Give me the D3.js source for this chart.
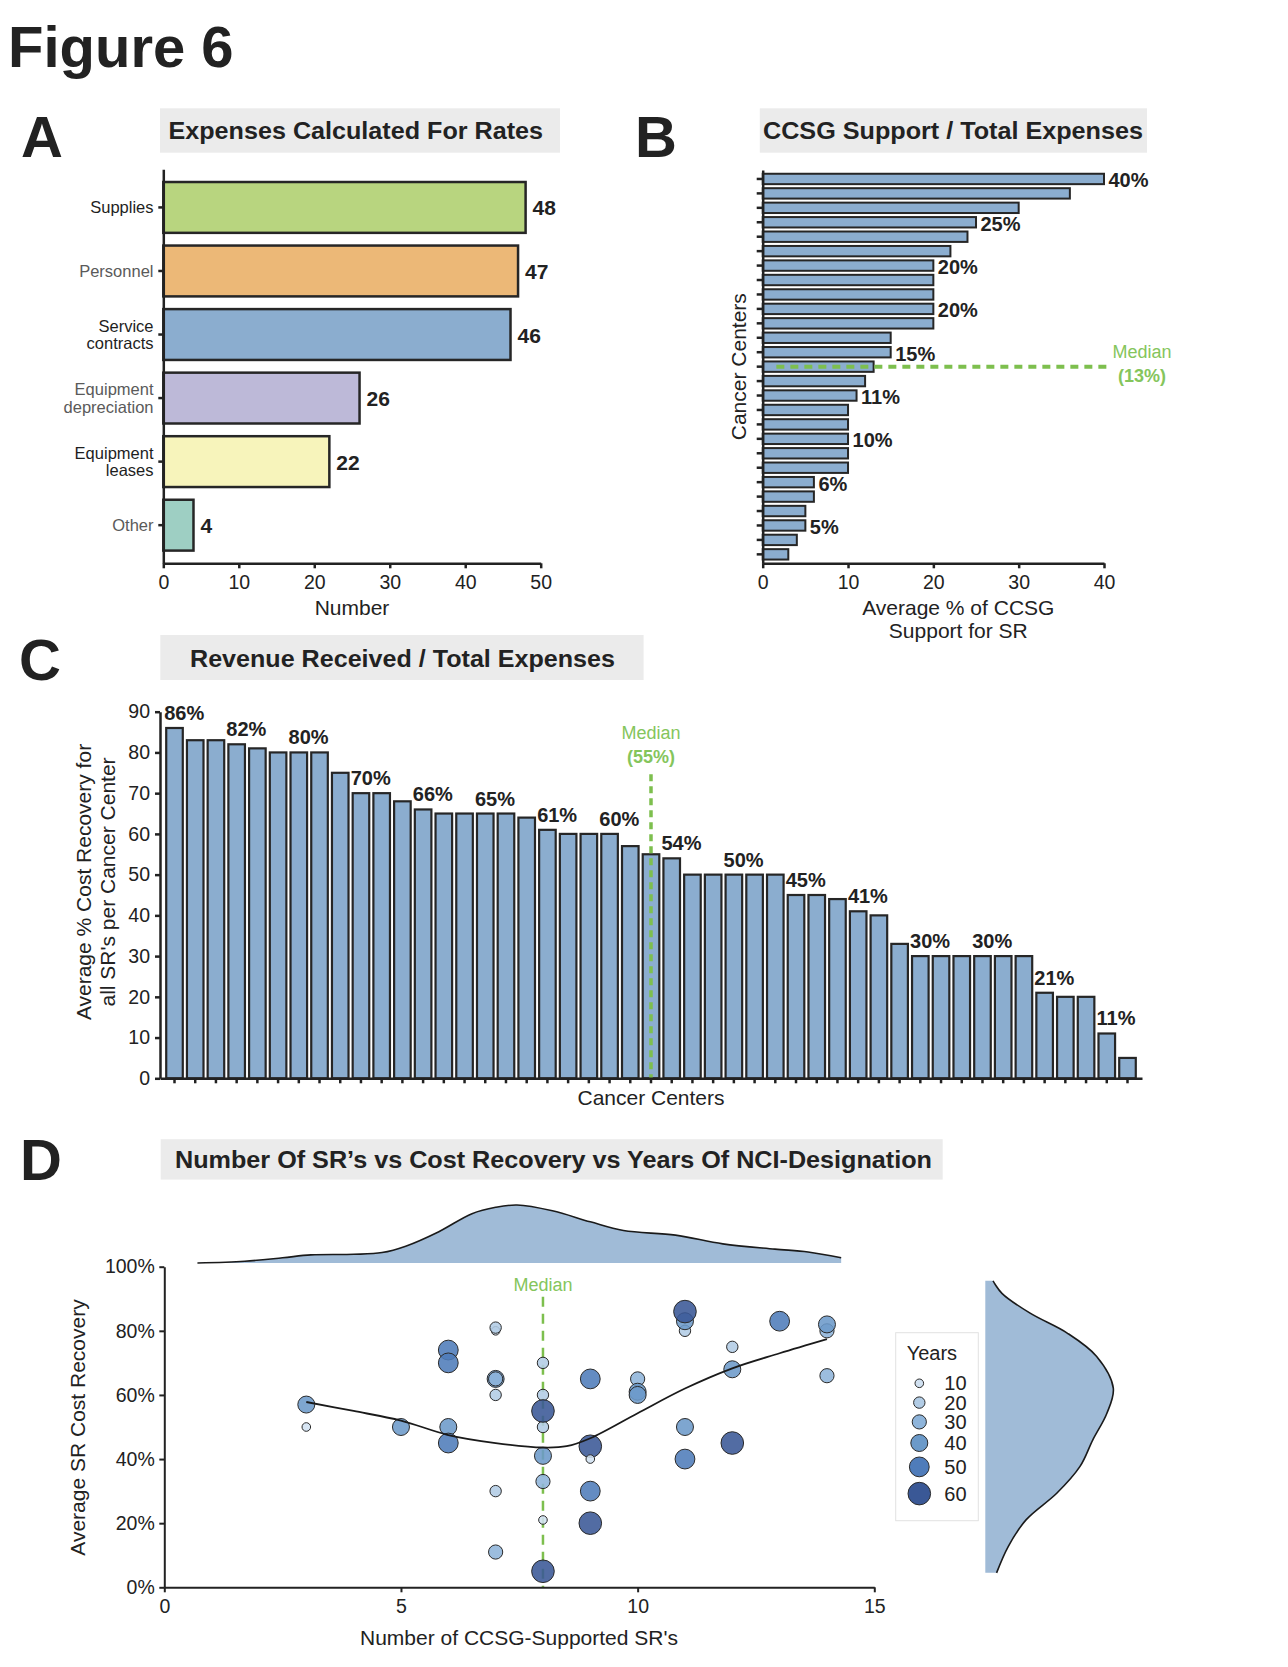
<!DOCTYPE html>
<html>
<head>
<meta charset="utf-8">
<script src="https://cdn.jsdelivr.net/npm/d3@7"></script>
<style>
  body { margin: 0; background: #fff; }
</style>
</head>
<body>
<svg id="fig" width="1288" height="1667"></svg>
<script>
// Panel A: expenses used for rate calculation.
const expenseCategories = ["Supplies", "Personnel", "Service contracts", "Equipment depreciation", "Equipment leases", "Other"];
const expenseCounts = [48, 47, 46, 26, 22, 4];
const expenseColors = ["#b8d57f", "#ecb877", "#8badcf", "#bdb9d8", "#f7f4bb", "#9ecfc3"];
const expenseLabelColors = ["#1e1e1e", "#5a5a5a", "#1e1e1e", "#5a5a5a", "#1e1e1e", "#5a5a5a"];
const expenseTicks = [0, 10, 20, 30, 40, 50];

// Panel B: CCSG support / total expenses, one bar per cancer center.
const ccsgSupport = [40, 36, 30, 25, 24, 22, 20, 20, 20, 20, 20, 15, 15, 13, 12, 11, 10, 10, 10, 10, 10, 6, 6, 5, 5, 4, 3];
const ccsgTicks = [0, 10, 20, 30, 40];

// Panel C: revenue received / total expenses.
const costRecovery = [86, 83, 83, 82, 81, 80, 80, 80, 75, 70, 70, 68, 66, 65, 65, 65, 65, 64, 61, 60, 60, 60, 57, 55,
                      54, 50, 50, 50, 50, 50, 45, 45, 44, 41, 40, 33, 30, 30, 30, 30, 30, 30, 21, 20, 20, 11, 5];
const recoveryTicks = [0, 10, 20, 30, 40, 50, 60, 70, 80, 90];

// Panel D: scatter of SR count vs cost recovery, sized by years of designation.
const srCount   = [3, 3, 5, 6, 6, 6, 6, 7, 7, 7, 7, 7, 7, 7, 8, 8, 8, 8, 8, 8, 8, 8, 9, 9, 9, 9, 9, 10, 10, 10, 11, 11, 11, 11, 11, 12, 12, 12, 13, 14, 14, 14];
const srRecovery = [57, 50, 50, 74, 70, 50, 45, 80, 81, 65, 65, 60, 30, 11, 70, 60, 50, 55, 41, 33, 21, 5, 65, 44, 40, 30, 20, 65, 61, 60, 80, 83, 86, 50, 40, 75, 68, 45, 83, 80, 82, 66];
const srYears   = [40, 10, 40, 50, 50, 40, 50, 10, 20, 40, 30, 20, 20, 30, 20, 20, 20, 60, 40, 30, 10, 60, 50, 60, 10, 50, 60, 30, 40, 40, 20, 40, 60, 40, 50, 20, 40, 60, 50, 30, 40, 30];
const yearLevels = [10, 20, 30, 40, 50, 60];
const yearColors = ["#d1e1f1", "#b2cce5", "#8eb4da", "#6c9ac9", "#4f7cba", "#3a5896"];

// Smoothed trend line.
const trendX = [3, 4, 5, 6, 7, 8, 8.5, 9, 10, 11, 12, 13, 14];
const trendY = [57.8, 55, 52, 47.5, 45, 43.6, 44, 46.5, 54.3, 62, 68.3, 73, 77.4];

// Marginal densities (relative height).
const kdeTopX = [0.7, 1.7, 2.5, 3.1, 4.0, 4.6, 5.1, 5.8, 6.5, 7.0, 7.45, 8.2, 9.0, 9.7, 10.8, 11.8, 12.9, 13.6, 14.3];
const kdeTopD = [0, 0.03, 0.09, 0.14, 0.15, 0.18, 0.29, 0.54, 0.85, 0.96, 1.0, 0.9, 0.71, 0.56, 0.48, 0.33, 0.24, 0.19, 0.09];
const kdeRightY = [4.5, 12.8, 21.1, 29.4, 37.7, 46, 54.3, 62.1, 72, 79.3, 85.5, 91.7, 95.6];
const kdeRightD = [0.088, 0.18, 0.32, 0.56, 0.74, 0.84, 0.95, 1.0, 0.87, 0.64, 0.35, 0.13, 0.06];
const scatterXTicks = [0, 5, 10, 15];
const scatterYTicks = [0, 20, 40, 60, 80, 100];

const FONT = "'Liberation Sans', Arial, Helvetica, sans-serif";
const INK = "#222";
const GREEN = "#7dbf4e";
const GREEN_TEXT = "#85c55c";
const BAR_BLUE = "#8badcf";

let svg = d3.select("#fig");
svg.append("rect").attr("width", 1288).attr("height", 1667).attr("fill", "#fff");

// Shared axis styling.
function styleAxis(g, width, size) {
  g.attr("font-family", FONT).attr("font-size", size || 19.5);
  g.select(".domain").attr("stroke", INK).attr("stroke-width", width);
  g.selectAll(".tick line").attr("stroke", INK).attr("stroke-width", width);
  g.selectAll(".tick text").attr("fill", INK);
}

function label(x, y, txt, opts) {
  opts = opts || {};
  let t = svg.append("text")
     .attr("x", x).attr("y", y)
     .attr("font-family", FONT)
     .attr("font-size", opts.size || 21)
     .attr("font-weight", opts.bold ? "bold" : "normal")
     .attr("fill", opts.color || INK)
     .attr("text-anchor", opts.anchor || "start")
     .text(txt);
  if (opts.rotate) t.attr("transform", "rotate(-90," + x + "," + y + ")");
  if (opts.length) t.attr("textLength", opts.length).attr("lengthAdjust", "spacingAndGlyphs");
  return t;
}

function titleBox(x, y, w, h, tx, ty, txt, len) {
  svg.append("rect").attr("x", x).attr("y", y).attr("width", w).attr("height", h).attr("fill", "#ebebeb");
  label(tx, ty, txt, {size: 23, bold: true, length: len});
}

// Figure heading and panel letters.
label(8, 66.7, "Figure 6", {size: 58, bold: true});
label(21, 156.7, "A", {size: 58, bold: true});
label(635, 156.7, "B", {size: 58, bold: true});
label(19, 680, "C", {size: 58, bold: true});
label(20, 1179.6, "D", {size: 58, bold: true});

// ---------------- Panel A ----------------
titleBox(160, 108.3, 400, 44.4, 168.5, 139.3, "Expenses Calculated For Rates", 374.5);

let xA = d3.scaleLinear().domain([0, 50]).range([163.3, 540.7]);
let yA = d3.scaleBand().domain(expenseCategories).range([169.3, 563.3]).paddingInner(0.2).paddingOuter(0.2);

svg.append("g").selectAll("rect")
   .data(expenseCategories)
   .enter().append("rect")
   .attr("x", xA(0))
   .attr("y", d => yA(d))
   .attr("width", (d, i) => xA(expenseCounts[i]) - xA(0))
   .attr("height", yA.bandwidth())
   .attr("fill", (d, i) => expenseColors[i])
   .attr("stroke", "#262626")
   .attr("stroke-width", 2.5);

svg.append("g").selectAll("text")
   .data(expenseCategories)
   .enter().append("text")
   .attr("x", (d, i) => xA(expenseCounts[i]) + 7)
   .attr("y", d => yA(d) + yA.bandwidth() / 2 + 8)
   .attr("font-family", FONT).attr("font-size", 21).attr("font-weight", "bold").attr("fill", INK)
   .text((d, i) => expenseCounts[i]);

let axAx = svg.append("g")
   .attr("transform", "translate(0," + 563.3 + ")")
   .call(d3.axisBottom(xA).tickValues(expenseTicks).tickSize(5).tickSizeOuter(0).tickPadding(7));
styleAxis(axAx, 2.5);

let axAy = svg.append("g")
   .attr("transform", "translate(" + xA(0) + ",0)")
   .call(d3.axisLeft(yA).tickSize(5).tickSizeOuter(0).tickFormat(""));
styleAxis(axAy, 2.5);

// Category names, split over two lines where the original does.
expenseCategories.forEach(function(c, i) {
  let words = c.split(" ");
  let cy = yA(c) + yA.bandwidth() / 2;
  let lines = words.length > 1 ? [words[0], words.slice(1).join(" ")] : [c];
  let t = svg.append("text")
     .attr("font-family", FONT).attr("font-size", 16.5)
     .attr("fill", expenseLabelColors[i]).attr("text-anchor", "end");
  lines.forEach(function(l, j) {
    t.append("tspan").attr("x", 153.5)
     .attr("y", lines.length === 1 ? cy + 6 : cy - 3 + j * 17.7)
     .text(l);
  });
});

label((xA(0) + xA(50)) / 2, 615, "Number", {size: 21, anchor: "middle"});

// ---------------- Panel B ----------------
titleBox(759.8, 108.3, 387.2, 44.4, 763, 139.3, "CCSG Support / Total Expenses", 380);

let xB = d3.scaleLinear().domain([0, 40]).range([762.7, 1104]);
let yB = d3.scaleBand().domain(d3.range(ccsgSupport.length)).range([170, 563.3]).paddingInner(0.28).paddingOuter(0.26);

svg.append("g").selectAll("rect")
   .data(ccsgSupport)
   .enter().append("rect")
   .attr("x", xB(0))
   .attr("y", (d, i) => yB(i))
   .attr("width", d => xB(d) - xB(0))
   .attr("height", yB.bandwidth())
   .attr("fill", BAR_BLUE)
   .attr("stroke", "#262626")
   .attr("stroke-width", 2);

svg.append("g").selectAll("text")
   .data(ccsgSupport.map((d, i) => ({v: d, i: i})).filter(d => d.i % 3 === 0))
   .enter().append("text")
   .attr("x", d => xB(d.v) + 4.5)
   .attr("y", d => yB(d.i) + yB.bandwidth() / 2 + 8.5)
   .attr("font-family", FONT).attr("font-size", 20).attr("font-weight", "bold").attr("fill", INK)
   .text(d => d.v + "%");

let ccsgMedian = d3.median(ccsgSupport);
let yMedB = yB(ccsgSupport.indexOf(ccsgMedian)) + yB.bandwidth() / 2;
svg.append("line")
   .attr("x1", xB(1.6)).attr("x2", xB(40.3))
   .attr("y1", yMedB).attr("y2", yMedB)
   .attr("stroke", GREEN).attr("stroke-width", 4).attr("stroke-dasharray", "8,6");
label(1142, yMedB - 8.5, "Median", {size: 18, color: GREEN_TEXT, anchor: "middle"});
label(1142, yMedB + 15.5, "(" + ccsgMedian + "%)", {size: 18, bold: true, color: GREEN_TEXT, anchor: "middle"});

let axBx = svg.append("g")
   .attr("transform", "translate(0," + 563.3 + ")")
   .call(d3.axisBottom(xB).tickValues(ccsgTicks).tickSize(5).tickSizeOuter(0).tickPadding(7));
styleAxis(axBx, 2.5);

let axBy = svg.append("g")
   .attr("transform", "translate(" + xB(0) + ",0)")
   .call(d3.axisLeft(yB).tickSize(6).tickSizeOuter(0).tickFormat(""));
styleAxis(axBy, 2.5);

label(746.5, 366.7, "Cancer Centers", {size: 21, anchor: "middle", rotate: true});
label(958.3, 615, "Average % of CCSG", {size: 21, anchor: "middle"});
label(958.3, 638.3, "Support for SR", {size: 21, anchor: "middle"});

// ---------------- Panel C ----------------
titleBox(160.3, 635, 483.3, 45, 190, 666.7, "Revenue Received / Total Expenses", 425);

let xC = d3.scaleBand().domain(d3.range(costRecovery.length)).range([160, 1142]).paddingInner(0.2).paddingOuter(0.3);
let yC = d3.scaleLinear().domain([0, 90]).range([1078.3, 711.7]);

svg.append("g").selectAll("rect")
   .data(costRecovery)
   .enter().append("rect")
   .attr("x", (d, i) => xC(i))
   .attr("y", d => yC(d))
   .attr("width", xC.bandwidth())
   .attr("height", d => yC(0) - yC(d))
   .attr("fill", BAR_BLUE)
   .attr("stroke", "#262626")
   .attr("stroke-width", 2.2);

svg.append("g").selectAll("text")
   .data(costRecovery.map((d, i) => ({v: d, i: i})).filter(d => d.i % 3 === 0))
   .enter().append("text")
   .attr("x", d => xC(d.i) - 2)
   .attr("y", d => yC(d.v) - 8)
   .attr("font-family", FONT).attr("font-size", 20).attr("font-weight", "bold").attr("fill", INK)
   .text(d => d.v + "%");

let costMedian = d3.median(costRecovery);
let xMedC = xC(costRecovery.indexOf(costMedian)) + xC.bandwidth() / 2;
svg.append("line")
   .attr("x1", xMedC).attr("x2", xMedC)
   .attr("y1", yC(costMedian) - 80).attr("y2", yC(0))
   .attr("stroke", GREEN).attr("stroke-width", 3.5).attr("stroke-dasharray", "7,5");
label(xMedC, 739.3, "Median", {size: 18, color: GREEN_TEXT, anchor: "middle"});
label(xMedC, 762.7, "(" + costMedian + "%)", {size: 18, bold: true, color: GREEN_TEXT, anchor: "middle"});

let axCx = svg.append("g")
   .attr("transform", "translate(0," + yC(0) + ")")
   .call(d3.axisBottom(xC).tickSize(5).tickSizeOuter(0).tickFormat(""));
styleAxis(axCx, 2.5);

let axCy = svg.append("g")
   .attr("transform", "translate(160,0)")
   .call(d3.axisLeft(yC).tickValues(recoveryTicks).tickSize(5).tickSizeOuter(0).tickPadding(5));
styleAxis(axCy, 2.5);

label(651, 1105, "Cancer Centers", {size: 21, anchor: "middle"});
label(91, 882, "Average % Cost Recovery for", {size: 21, anchor: "middle", rotate: true});
label(114.5, 882, "all SR's per Cancer Center", {size: 21, anchor: "middle", rotate: true});

// ---------------- Panel D ----------------
titleBox(160.7, 1139.2, 782, 40.4, 175, 1168, "Number Of SR’s vs Cost Recovery vs Years Of NCI-Designation", 757);

let xD = d3.scaleLinear().domain([0, 15]).range([164.3, 874.3]);
let yD = d3.scaleLinear().domain([0, 100]).range([1587.3, 1266.7]);
let rD = d3.scaleLinear().domain([10, 60]).range([4.3, 11.3]);
let cD = d3.scaleLinear().domain(yearLevels).range(yearColors);

// Top marginal density.
let kdeTopH = d3.scaleLinear().domain([0, 1]).range([1263, 1205]);
let topData = kdeTopX.map((x, i) => ({x: x, d: kdeTopD[i]}));
svg.append("path")
   .datum(topData)
   .attr("fill", "#a0bbd7")
   .attr("d", d3.area().curve(d3.curveCatmullRom)
      .x(d => xD(d.x)).y0(kdeTopH(0)).y1(d => kdeTopH(d.d)));
svg.append("path")
   .datum(topData)
   .attr("fill", "none").attr("stroke", "#1a1a1a").attr("stroke-width", 1.6)
   .attr("d", d3.line().curve(d3.curveCatmullRom).x(d => xD(d.x)).y(d => kdeTopH(d.d)));

// Right marginal density.
let kdeRightW = d3.scaleLinear().domain([0, 1]).range([985.3, 1113.3]);
let rightData = kdeRightY.map((y, i) => ({y: y, d: kdeRightD[i]}));
svg.append("path")
   .datum(rightData)
   .attr("fill", "#a0bbd7")
   .attr("d", d3.area().curve(d3.curveCatmullRom)
      .y(d => yD(d.y)).x0(kdeRightW(0)).x1(d => kdeRightW(d.d)));
svg.append("path")
   .datum(rightData)
   .attr("fill", "none").attr("stroke", "#1a1a1a").attr("stroke-width", 1.6)
   .attr("d", d3.line().curve(d3.curveCatmullRom).y(d => yD(d.y)).x(d => kdeRightW(d.d)));

// Median of SR counts.
let srMedian = d3.median(srCount);
svg.append("line")
   .attr("x1", xD(srMedian)).attr("x2", xD(srMedian))
   .attr("y1", 1296.7).attr("y2", yD(0))
   .attr("stroke", GREEN).attr("stroke-width", 2.5).attr("stroke-dasharray", "10,7");
label(xD(srMedian), 1291, "Median", {size: 18, color: GREEN_TEXT, anchor: "middle"});

// Points.
svg.append("g").selectAll("circle")
   .data(srCount.map((x, i) => ({x: x, y: srRecovery[i], yr: srYears[i]})))
   .enter().append("circle")
   .attr("cx", d => xD(d.x))
   .attr("cy", d => yD(d.y))
   .attr("r", d => rD(d.yr))
   .attr("fill", d => cD(d.yr))
   .attr("fill-opacity", 0.88)
   .attr("stroke", "#2a2a2a")
   .attr("stroke-width", 1);

// Trend line.
svg.append("path")
   .datum(trendX.map((x, i) => ({x: x, y: trendY[i]})))
   .attr("fill", "none").attr("stroke", "#1a1a1a").attr("stroke-width", 1.8)
   .attr("d", d3.line().curve(d3.curveCatmullRom).x(d => xD(d.x)).y(d => yD(d.y)));

let axDx = svg.append("g")
   .attr("transform", "translate(0," + yD(0) + ")")
   .call(d3.axisBottom(xD).tickValues(scatterXTicks).tickSize(5).tickSizeOuter(0).tickPadding(6.5));
styleAxis(axDx, 2);

let axDy = svg.append("g")
   .attr("transform", "translate(" + xD(0) + ",0)")
   .call(d3.axisLeft(yD).tickValues(scatterYTicks).tickSize(5).tickSizeOuter(0).tickPadding(4.5).tickFormat(d => d + "%"));
styleAxis(axDy, 2);

label(84.5, 1427.5, "Average SR Cost Recovery", {size: 21, anchor: "middle", rotate: true});
label(519, 1645, "Number of CCSG-Supported SR's", {size: 21, anchor: "middle"});

// Legend for years.
svg.append("rect")
   .attr("x", 895.7).attr("y", 1332.7).attr("width", 82.6).attr("height", 188)
   .attr("fill", "#fff").attr("stroke", "#e2e2e2").attr("stroke-width", 1);
label(906.7, 1360, "Years", {size: 20});
let legY = 1383.3;
yearLevels.forEach(function(yr, i) {
  if (i > 0) legY += Math.max(19.3, rD(yearLevels[i - 1]) + rD(yr) + 5.5);
  svg.append("circle")
     .attr("cx", 919.3).attr("cy", legY).attr("r", rD(yr))
     .attr("fill", cD(yr)).attr("stroke", "#2a2a2a").attr("stroke-width", 1);
  label(944.3, legY + 7, yr, {size: 20});
});
</script>
</body>
</html>
